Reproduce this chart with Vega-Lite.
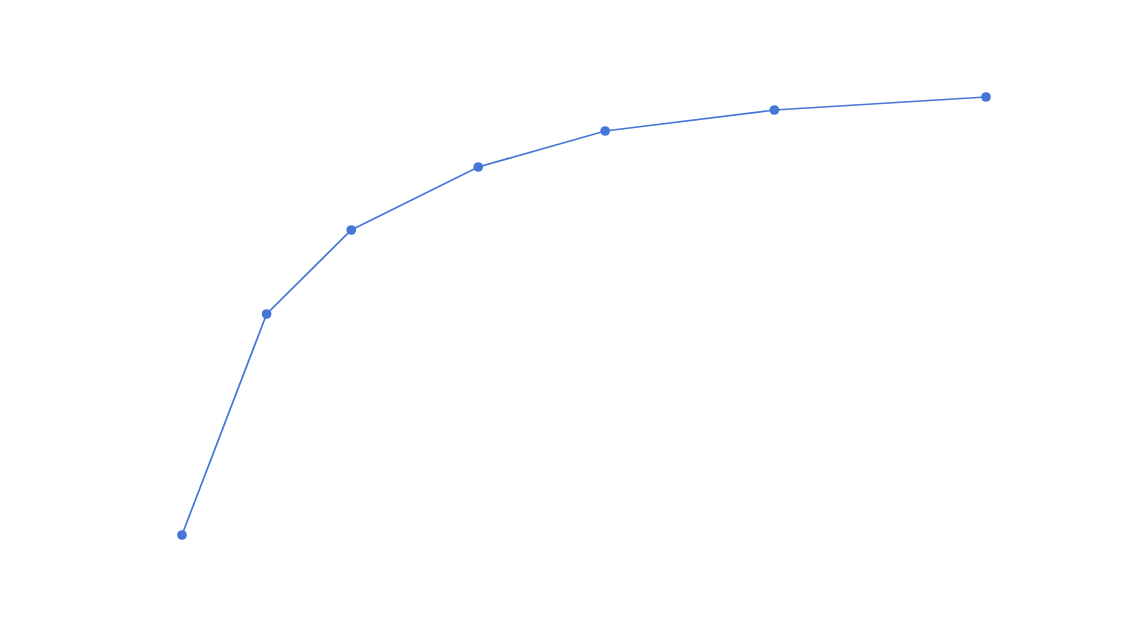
{
  "$schema": "https://vega.github.io/schema/vega-lite/v6.json",
  "width": 1139,
  "height": 636,
  "autosize": {"type": "none"},
  "padding": 0,
  "background": "white",
  "config": {"view": {"stroke": null}},
  "data": {"values": [
    {"x": 1, "y": 10.1},
    {"x": 2, "y": 32.2},
    {"x": 3, "y": 40.6},
    {"x": 4.5, "y": 46.9},
    {"x": 6, "y": 50.5},
    {"x": 8, "y": 52.6},
    {"x": 10.5, "y": 53.9}
  ]},
  "mark": {"type": "line", "color": "#4677D6", "strokeWidth": 1.75, "point": {"filled": true, "size": 95, "color": "#4677D6", "opacity": 1}},
  "encoding": {
    "x": {"field": "x", "type": "quantitative", "axis": null, "scale": {"domain": [-1.1505, 12.308], "nice": false, "zero": false}},
    "y": {"field": "y", "type": "quantitative", "axis": null, "scale": {"domain": [0, 63.6], "nice": false, "zero": false}}
  }
}
